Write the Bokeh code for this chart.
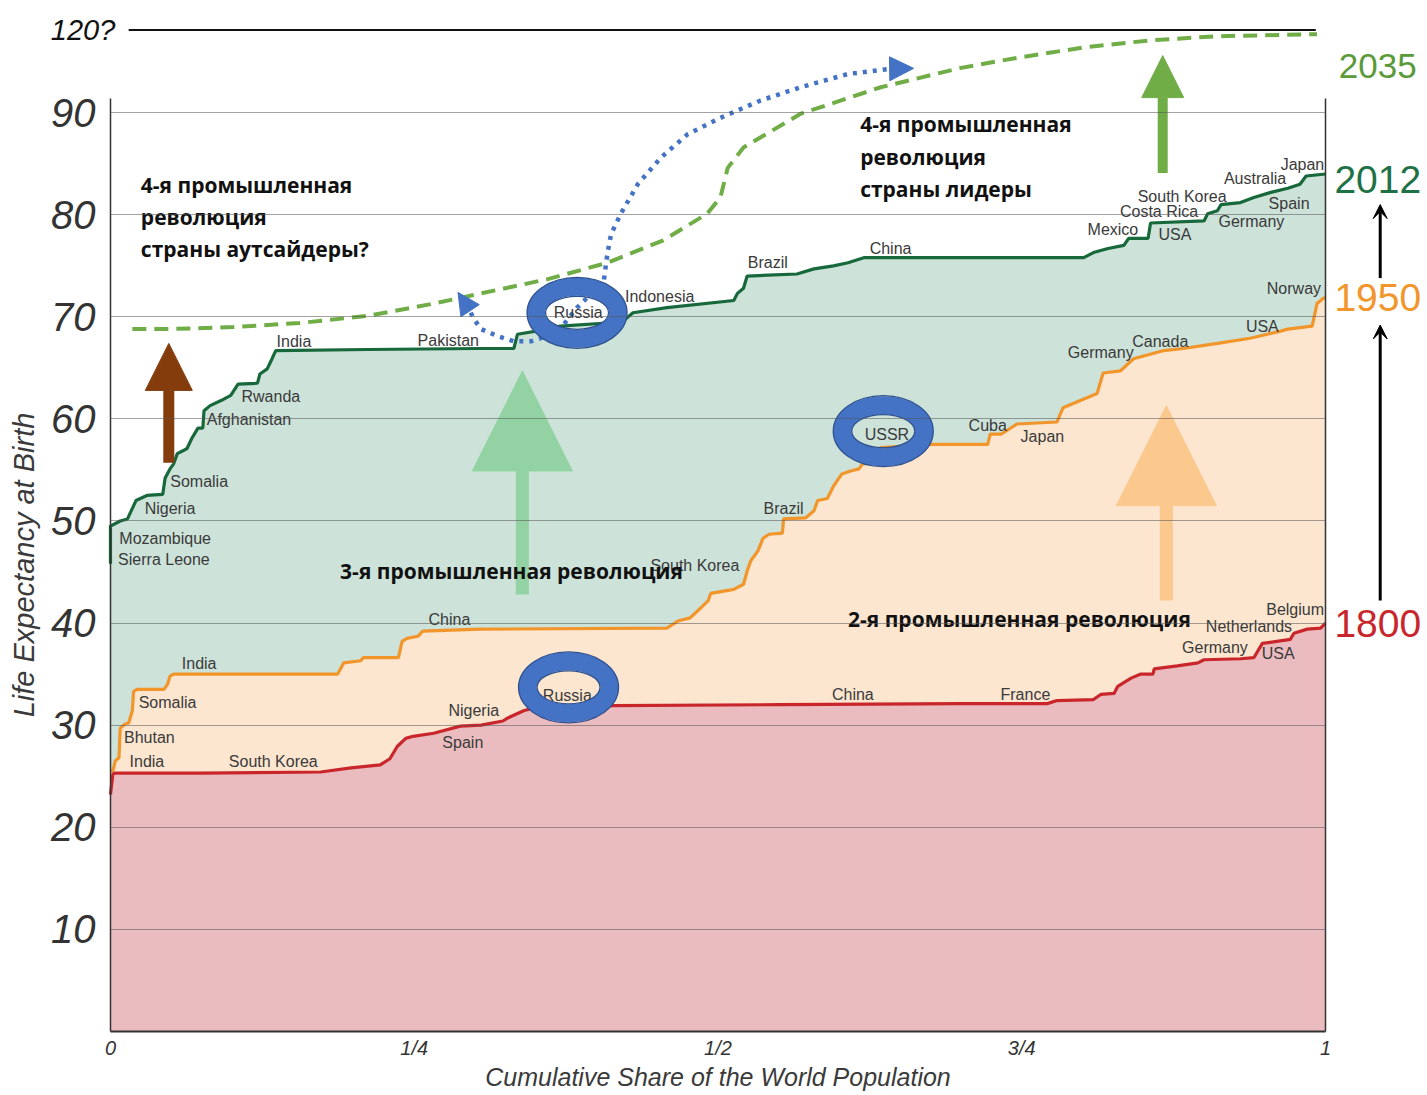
from bokeh.plotting import figure
from bokeh.models import (Range1d, FixedTicker, LinearAxis, Label, Arrow, NormalHead, VeeHead)
from bokeh.core.properties import value
from bokeh.embed import file_html
from bokeh.resources import INLINE

# ---------------- data (share of world population, life expectancy) ----------------
share_1800 = [0.0, 0.002, 0.004, 0.074, 0.173, 0.198, 0.222, 0.230, 0.236, 0.243, 0.249, 0.266,
              0.288, 0.305, 0.323, 0.327, 0.340, 0.346, 0.414, 0.551, 0.700, 0.771, 0.779, 0.809,
              0.815, 0.826, 0.829, 0.840, 0.848, 0.858, 0.859, 0.878, 0.895, 0.900, 0.930, 0.941,
              0.948, 0.971, 0.974, 0.985, 0.996, 1.0]
le_1800 = [23.2, 25.2, 25.3, 25.3, 25.4, 25.8, 26.1, 26.7, 27.9, 28.7, 28.9, 29.2,
           29.9, 30.0, 30.4, 30.7, 31.4, 31.6, 31.9, 32.0, 32.1, 32.1, 32.4, 32.5,
           33.0, 33.1, 33.8, 34.6, 35.0, 35.0, 35.5, 35.8, 36.1, 36.4, 36.5, 36.6,
           38.0, 38.4, 39.0, 39.4, 39.5, 40.0]

share_1950 = [0.0, 0.002, 0.004, 0.007, 0.008, 0.012, 0.015, 0.018, 0.019, 0.022, 0.044, 0.047,
              0.049, 0.052, 0.187, 0.192, 0.206, 0.208, 0.237, 0.240, 0.244, 0.253, 0.257, 0.305,
              0.458, 0.467, 0.477, 0.486, 0.492, 0.494, 0.513, 0.521, 0.524, 0.527, 0.533, 0.537,
              0.542, 0.553, 0.554, 0.572, 0.579, 0.582, 0.590, 0.595, 0.599, 0.602, 0.609, 0.616,
              0.619, 0.626, 0.634, 0.677, 0.722, 0.724, 0.733, 0.746, 0.779, 0.784, 0.812, 0.817,
              0.831, 0.842, 0.867, 0.883, 0.911, 0.938, 0.963, 0.969, 0.989, 0.993, 0.998, 1.0]
le_1950 = [25.5, 25.5, 26.5, 26.8, 29.7, 30.1, 30.2, 31.4, 33.3, 33.5, 33.5, 34.0,
           34.8, 35.0, 35.0, 36.1, 36.3, 36.6, 36.6, 38.2, 38.5, 38.7, 39.2, 39.4,
           39.5, 40.2, 40.5, 41.5, 42.2, 42.9, 43.3, 43.8, 45.1, 46.1, 47.1, 48.3,
           48.7, 48.8, 50.2, 50.3, 51.0, 52.0, 52.2, 53.4, 54.1, 54.6, 54.9, 55.1,
           55.6, 55.7, 57.2, 57.5, 57.5, 58.5, 58.5, 59.5, 59.7, 61.1, 62.5, 64.5,
           64.7, 65.9, 66.7, 66.9, 67.4, 67.9, 68.6, 68.8, 69.1, 71.3, 71.8, 71.9]

share_2012 = [0.0, 0.0, 0.008, 0.014, 0.021, 0.030, 0.043, 0.045, 0.049, 0.052, 0.055, 0.060,
              0.063, 0.067, 0.072, 0.076, 0.077, 0.082, 0.091, 0.099, 0.105, 0.121, 0.123, 0.129,
              0.133, 0.136, 0.212, 0.302, 0.332, 0.335, 0.360, 0.370, 0.409, 0.422, 0.430, 0.458,
              0.513, 0.516, 0.521, 0.524, 0.565, 0.579, 0.595, 0.607, 0.620, 0.801, 0.809, 0.821,
              0.834, 0.838, 0.854, 0.856, 0.900, 0.903, 0.911, 0.914, 0.930, 0.941, 0.955, 0.969,
              0.979, 0.984, 1.0]
le_2012 = [45.8, 49.5, 50.0, 50.2, 52.0, 52.5, 52.6, 54.2, 55.1, 55.6, 56.6, 56.9,
           57.1, 58.1, 59.1, 59.1, 60.8, 61.3, 61.8, 62.3, 63.4, 63.5, 64.4, 64.9,
           65.9, 66.7, 66.8, 66.9, 66.9, 68.3, 68.8, 69.1, 69.4, 69.6, 70.4, 70.9,
           71.6, 72.3, 72.8, 74.0, 74.2, 74.7, 75.0, 75.3, 75.8, 75.8, 76.3, 76.7,
           77.0, 77.7, 77.7, 79.2, 79.4, 80.1, 80.4, 81.0, 81.2, 81.7, 82.2, 82.6,
           83.0, 83.8, 84.0]

share_2035 = [0.018, 0.047, 0.101, 0.156, 0.212, 0.266, 0.305, 0.360, 0.409, 0.455, 0.491,
              0.502, 0.508, 0.521, 0.568, 0.634, 0.700, 0.747, 0.801, 0.856, 0.911, 0.993]
le_2035 = [68.8, 68.8, 69.0, 69.4, 70.1, 71.3, 72.3, 73.7, 75.3, 77.5, 80.1,
           81.7, 84.6, 86.6, 89.9, 92.5, 94.4, 95.4, 96.4, 97.1, 97.5, 97.7]

# path of the blue dotted "leap" arrow
share_leap = [0.293, 0.299, 0.305, 0.319, 0.332, 0.346, 0.354, 0.370, 0.384, 0.406, 0.409,
              0.412, 0.420, 0.434, 0.453, 0.475, 0.502, 0.535, 0.568, 0.607, 0.642]
le_leap = [71.3, 69.8, 68.8, 68.1, 67.6, 67.6, 67.9, 68.8, 70.9, 73.5, 76.2,
           78.1, 80.1, 83.0, 85.6, 87.9, 89.5, 91.2, 92.5, 93.8, 94.3]

limit_share = [0.015, 0.992]
limit_le = [98.1, 98.1]

labels_2012 = ["India", "Pakistan", "Russia", "Indonesia", "Brazil", "China", "Mexico", "USA",
               "Costa Rica", "South Korea", "Germany", "Spain", "Australia", "Japan", "Rwanda",
               "Afghanistan", "Somalia", "Nigeria", "Mozambique", "Sierra Leone"]
lab2012_x = [0.151, 0.278, 0.385, 0.452, 0.541, 0.642, 0.825, 0.876, 0.863, 0.882, 0.939,
             0.970, 0.942, 0.981, 0.132, 0.114, 0.073, 0.049, 0.045, 0.044]
lab2012_y = [67.6, 67.7, 70.4, 72.0, 75.3, 76.7, 78.6, 78.1, 80.3, 81.8, 79.3, 81.1, 83.6,
             84.9, 62.2, 59.9, 53.9, 51.2, 48.3, 46.2]

labels_1950 = ["USSR", "Cuba", "Japan", "Brazil", "South Korea", "China", "India", "Somalia",
               "Bhutan", "India", "Germany", "Canada", "USA", "Norway"]
lab1950_x = [0.639, 0.722, 0.767, 0.554, 0.481, 0.279, 0.073, 0.047, 0.032, 0.030, 0.815,
             0.864, 0.948, 0.974]
lab1950_y = [58.5, 59.4, 58.3, 51.2, 45.6, 40.3, 36.0, 32.2, 28.8, 26.4, 66.5, 67.6, 69.1, 72.8]

labels_1800 = ["South Korea", "Nigeria", "Spain", "Russia", "China", "France", "Germany", "USA",
               "Netherlands", "Belgium"]
lab1800_x = [0.134, 0.299, 0.290, 0.376, 0.611, 0.753, 0.909, 0.961, 0.937, 0.975]
lab1800_y = [26.4, 31.4, 28.3, 32.9, 33.0, 33.0, 37.6, 37.0, 39.7, 41.3]

ring_x = [0.384, 0.636, 0.377]
ring_y = [70.4, 58.8, 33.7]

x_ticks = [0, 0.25, 0.5, 0.75, 1]
x_tick_labels = ["0", "1/4", "1/2", "3/4", "1"]
y_ticks = [10, 20, 30, 40, 50, 60, 70, 80, 90]

notes_text = ["4-я промышленная\nреволюция\nстраны аутсайдеры?",
              "4-я промышленная\nреволюция\nстраны лидеры",
              "3-я промышленная революция",
              "2-я промышленная революция"]
notes_x = [0.025, 0.617, 0.189, 0.607]
notes_y = [79.8, 85.7, 45.1, 40.4]

year_text = ["2035", "2012", "1950", "1800"]
year_le = [94.6, 83.5, 71.9, 40.0]
year_color = ["#5B9A3A", "#1E7145", "#F2952B", "#C9262C"]
year_size = ["35px", "39px", "39px", "39px"]

# ---------------- figure ----------------
W, H = 1426, 1094
p = figure(width=W, height=H, output_backend="svg", toolbar_location=None,
           x_range=Range1d(-0.0905, 1.0831), y_range=Range1d(-6.2, 101.0),
           min_border_left=0, min_border_right=0, min_border_top=0, min_border_bottom=0)
p.outline_line_color = None
p.background_fill_color = "white"

# areas
p.varea(x=share_2012, y1=0, y2=le_2012, fill_color="#CDE2D9")
p.varea(x=share_1950, y1=0, y2=le_1950, fill_color="#FCE6D0")
p.varea(x=share_1800, y1=0, y2=le_1800, fill_color="#EBBCBF")

# big arrows inside the plot
p.add_layout(Arrow(end=NormalHead(size=100, fill_color="#93D3A3", line_color="#93D3A3"),
                   x_start=0.339, y_start=42.8, x_end=0.339, y_end=64.7,
                   line_color="#93D3A3", line_width=13))
p.add_layout(Arrow(end=NormalHead(size=100, fill_color="#FBC98E", line_color="#FBC98E"),
                   x_start=0.869, y_start=42.2, x_end=0.869, y_end=61.3,
                   line_color="#FBC98E", line_width=13))
p.add_layout(Arrow(end=NormalHead(size=47, fill_color="#843C0C", line_color="#843C0C"),
                   x_start=0.048, y_start=55.7, x_end=0.048, y_end=67.4,
                   line_color="#843C0C", line_width=11))
p.add_layout(Arrow(end=NormalHead(size=42, fill_color="#70AD47", line_color="#70AD47"),
                   x_start=0.866, y_start=84.1, x_end=0.866, y_end=95.6,
                   line_color="#70AD47", line_width=10))

# curves
p.line(share_2012, le_2012, line_color="#17683A", line_width=3.2)
p.line(share_1950, le_1950, line_color="#F2952B", line_width=3.2)
p.line(share_1800, le_1800, line_color="#C9262C", line_width=3.2)

# projection and limit
p.line(share_2035, le_2035, line_color="#70AD47", line_width=4, line_dash="14 8")
p.line(limit_share, limit_le, line_color="#111111", line_width=2)

# blue dotted leap
p.line(share_leap, le_leap, line_color="#4472C4", line_width=4.5, line_dash="4 6")
p.add_layout(Arrow(end=NormalHead(size=24, fill_color="#4472C4", line_color="#4472C4"),
                   x_start=0.636, y_start=94.3, x_end=0.661, y_end=94.35, line_alpha=0))
p.add_layout(Arrow(end=NormalHead(size=22, fill_color="#4472C4", line_color="#4472C4"),
                   x_start=0.296, y_start=70.6, x_end=0.286, y_end=72.4, line_alpha=0))

# country labels
lab_font = value("Liberation Sans")
for xs, ys, ts in [(lab2012_x, lab2012_y, labels_2012), (lab1950_x, lab1950_y, labels_1950),
                   (lab1800_x, lab1800_y, labels_1800)]:
    p.text(xs, ys, text=ts, text_font=lab_font, text_font_size="16px",
           text_color="#3a3a3a", text_align="center", text_baseline="middle")

# rings
p.ellipse(ring_x, ring_y, width=82, height=52, width_units="screen", height_units="screen",
          fill_alpha=0, line_color="#4472C4", line_width=18)
p.ellipse(ring_x, ring_y, width=100, height=71, width_units="screen", height_units="screen",
          fill_alpha=0, line_color="#2F528F", line_width=1.3)
p.ellipse(ring_x, ring_y, width=63, height=33, width_units="screen", height_units="screen",
          fill_alpha=0, line_color="#2F528F", line_width=1.3)

# Russian notes (on top of the arrows)
for t, nx, ny in zip(notes_text, notes_x, notes_y):
    p.add_layout(Label(x=nx, y=ny, text=t, text_font="Open Sans", text_font_size="21px",
                       text_font_style="bold", text_color="#111111", text_align="left",
                       text_baseline="middle", text_line_height=1.15))

# grid (only between 0 and 1)
p.xgrid.visible = False
p.ygrid.ticker = FixedTicker(ticks=y_ticks)
try:
    p.ygrid.cross_bounds = (0, 1)
    p.ygrid.grid_line_color = "#555555"
    p.ygrid.grid_line_alpha = 0.55
    p.ygrid.grid_line_width = 1
    p.ygrid.level = "overlay"
except Exception:
    p.ygrid.visible = False
    p.segment(x0=0, x1=1, y0=y_ticks, y1=y_ticks, line_color="#555555", line_alpha=0.55,
              line_width=1, level="overlay")

# axes, drawn at x = 0 / y = 0 / x = 1
xa = p.xaxis[0]
xa.fixed_location = 0
xa.ticker = FixedTicker(ticks=x_ticks)
xa.major_label_overrides = {t: l for t, l in zip(x_ticks, x_tick_labels)}
xa.major_tick_line_color = None
xa.minor_tick_line_color = None
xa.major_label_text_font = "Liberation Sans"
xa.major_label_text_font_style = "italic"
xa.major_label_text_font_size = "20px"
xa.major_label_text_color = "#333333"
xa.major_label_standoff = 0
xa.axis_label = "Cumulative Share of the World Population"
xa.axis_label_text_font = "Liberation Sans"
xa.axis_label_text_font_style = "italic"
xa.axis_label_text_font_size = "25px"
xa.axis_label_text_color = "#3a3a3a"
xa.axis_label_standoff = 0
xa.axis_line_color = "#333333"
xa.axis_line_width = 2
xa.bounds = (0, 1)

ya = p.yaxis[0]
ya.fixed_location = 0
ya.ticker = FixedTicker(ticks=y_ticks)
ya.major_tick_line_color = None
ya.minor_tick_line_color = None
ya.major_label_text_font = "Liberation Sans"
ya.major_label_text_font_style = "italic"
ya.major_label_text_font_size = "40px"
ya.major_label_text_color = "#333333"
ya.major_label_standoff = 9
ya.axis_label = "Life Expectancy at Birth"
ya.axis_label_text_font = "Liberation Sans"
ya.axis_label_text_font_style = "italic"
ya.axis_label_text_font_size = "29px"
ya.axis_label_text_color = "#3a3a3a"
ya.axis_label_standoff = 8
ya.axis_line_color = "#333333"
ya.axis_line_width = 1.5
ya.bounds = (0, 91.4)

ra = LinearAxis(ticker=FixedTicker(ticks=y_ticks), major_label_text_alpha=0,
                major_tick_line_color=None, minor_tick_line_color=None, fixed_location=1,
                axis_line_color="#333333", axis_line_width=1.5, bounds=(0, 91.4))
p.add_layout(ra, "right")

# labels beside the frame
p.add_layout(Label(x=0.004, y=98.1, text="120?", text_font="Liberation Sans",
                   text_font_style="italic", text_font_size="29px", text_color="#111111",
                   text_align="right", text_baseline="middle"))
for t, yy, c, fs in zip(year_text, year_le, year_color, year_size):
    p.add_layout(Label(x=1.043, y=yy, text=t, text_font="Liberation Sans", text_font_size=fs,
                       text_color=c, text_align="center", text_baseline="middle"))

p.add_layout(Arrow(end=VeeHead(size=14, fill_color="black", line_color="black"),
                   x_start=1.045, y_start=42.2, x_end=1.045, y_end=69.2,
                   line_color="black", line_width=3))
p.add_layout(Arrow(end=VeeHead(size=14, fill_color="black", line_color="black"),
                   x_start=1.045, y_start=73.8, x_end=1.045, y_end=81.0,
                   line_color="black", line_width=3))

open("out.html", "w").write(file_html(p, INLINE))
